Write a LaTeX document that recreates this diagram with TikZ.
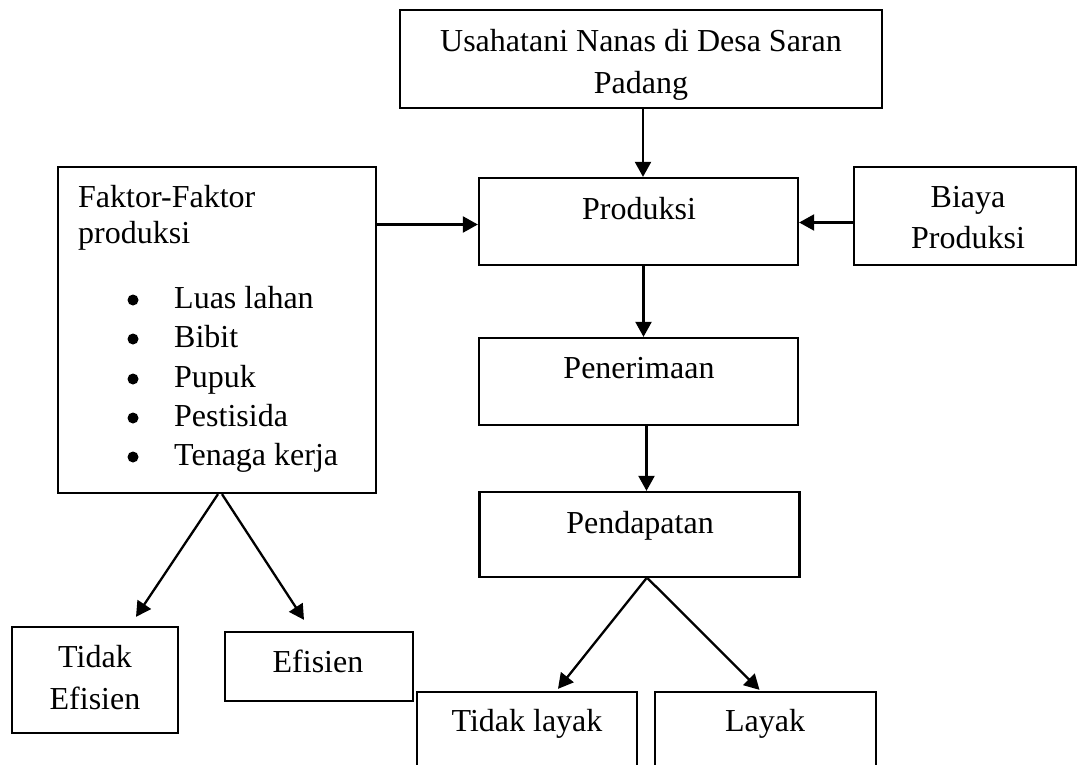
\documentclass[tikz,border=0pt]{standalone}
\usepackage{fontspec}
\setmainfont{Liberation Serif}
\usetikzlibrary{arrows.meta,calc}
\begin{document}
\begin{tikzpicture}[x=1pt,y=-1pt,
  box/.style={draw,line width=2.3pt,inner sep=0pt,rectangle},
  txt/.style={inner sep=0pt,anchor=base,font=\fontsize{32}{38}\selectfont},
  arr/.style={line width=2.3pt,-{Triangle[length=15pt,width=16pt]}}]
\clip (0,0) rectangle (1078,765);
\fill[white] (0,0) rectangle (1078,765);
% boxes
\node[box,minimum width=482,minimum height=98] (top) at (641,59) {};
\node[box,minimum width=319,minimum height=87] (prod) at (638.5,221.5) {};
\node[box,minimum width=222,minimum height=98] (biaya) at (965,216) {};
\node[box,minimum width=318,minimum height=326] (faktor) at (217,330) {};
\node[box,minimum width=319,minimum height=87] (pener) at (638.5,381.5) {};
\node[box,minimum width=320,minimum height=85] (penda) at (639.5,534.5) {};
\node[box,minimum width=166,minimum height=106] (tefis) at (95,680) {};
\node[box,minimum width=188,minimum height=69] (efis) at (319,666.5) {};
\node[box,minimum width=220,minimum height=96] (tlayak) at (527,740) {};
\node[box,minimum width=221,minimum height=96] (layak) at (765.5,740) {};
% texts
\node[txt] (t1) at (641,52) {Usahatani Nanas di Desa Saran};
\node[txt] (t2) at (641,94) {Padang};
\node[txt] (t3) at (639,219) {Produksi};
\node[txt] (t4) at (968,207) {Biaya};
\node[txt] (t5) at (968,248) {Produksi};
\node[txt,anchor=base west] (t6) at (78,207) {Faktor-Faktor};
\node[txt,anchor=base west] (t7) at (78,243) {produksi};
\foreach \y/\s [count=\i] in {308/Luas lahan,347/Bibit,387/Pupuk,426/Pestisida,465/Tenaga kerja}{
  \fill (133,\y-8) circle (5.5);
  \node[txt,anchor=base west] (item\i) at (174,\y) {\s};
}
\node[txt] (t8) at (639,378) {Penerimaan};
\node[txt] (t9) at (640,533) {Pendapatan};
\node[txt] (t10) at (95,667) {Tidak};
\node[txt] (t11) at (95,709) {Efisien};
\node[txt] (t12) at (318,672) {Efisien};
\node[txt] (t13) at (527,731) {Tidak layak};
\node[txt] (t14) at (765,731) {Layak};
% helper coordinates
\coordinate (c1) at ($(top.south)+(2,0)$);
\coordinate (c2) at ($(prod.south)+(5,0)$);
\coordinate (c3) at ($(pener.south)+(8,0)$);
% arrows
\draw[arr] (c1) -- (c1 |- prod.north);
\draw[arr] ($(faktor.east |- prod.west)+(0,3)$) -- ($(prod.west)+(0,3)$);
\draw[arr] ($(biaya.west |- prod.east)+(0,1)$) -- ($(prod.east)+(0,1)$);
\draw[arr] (c2) -- (c2 |- pener.north);
\draw[arr] (c3) -- (c3 |- penda.north);
\draw[arr] ($(penda.south)+(7,0)$) -- ($(tlayak.north)+(31,-2)$);
\draw[arr] ($(penda.south)+(8,0)$) -- ($(layak.north)+(-6,-1)$);
\draw[arr] ($(faktor.south)+(1,0)$) -- ($(tefis.north)+(41,-9)$);
\draw[arr] ($(faktor.south)+(5,0)$) -- ($(efis.north)+(-15,-11)$);
\end{tikzpicture}
\end{document}
